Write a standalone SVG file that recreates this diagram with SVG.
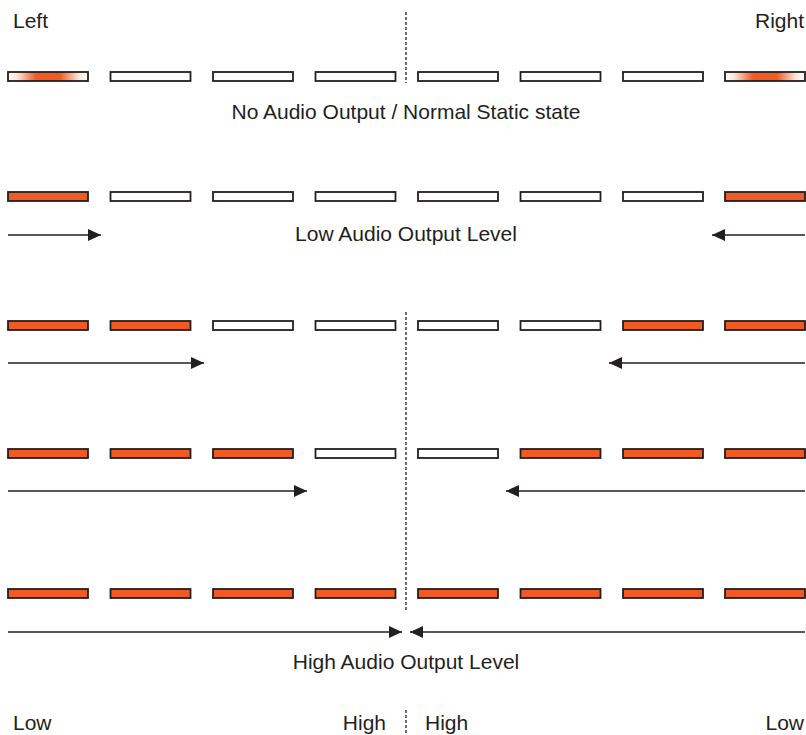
<svg xmlns="http://www.w3.org/2000/svg" width="806" height="735" viewBox="0 0 806 735">
<defs>
<linearGradient id="glow" x1="0" y1="0" x2="1" y2="0">
<stop offset="0" stop-color="#ffffff"/>
<stop offset="0.12" stop-color="#fde3d6"/>
<stop offset="0.35" stop-color="#f15a22"/>
<stop offset="0.65" stop-color="#f15a22"/>
<stop offset="0.88" stop-color="#fde3d6"/>
<stop offset="1" stop-color="#ffffff"/>
</linearGradient>
<marker id="ah" viewBox="0 0 13 12" refX="13" refY="6" markerWidth="13" markerHeight="12" markerUnits="userSpaceOnUse" orient="auto">
<path d="M0,0 L13,6 L0,12 z" fill="#231f20"/>
</marker>
<style>
.bar{stroke:#231f20;stroke-width:1.8}
.off{fill:#ffffff}
.on{fill:#f15a22}
.gl{fill:url(#glow)}
.arr{stroke:#231f20;stroke-width:1.4;fill:none;marker-end:url(#ah)}
.dash{stroke:#231f20;stroke-width:1.3;stroke-dasharray:3,2;fill:none}
text{font-family:"Liberation Sans",Arial,sans-serif;font-size:21px;fill:#231f20}
</style>
</defs>
<g id="center-line">
<line class="dash" x1="406" y1="12" x2="406" y2="83"/>
<line class="dash" x1="406" y1="312" x2="406" y2="610"/>
<line class="dash" x1="406" y1="710" x2="406" y2="735"/>
</g>
<g id="labels">
<text x="13" y="28">Left</text>
<text x="804" y="28" text-anchor="end">Right</text>
<text x="406" y="119" text-anchor="middle">No Audio Output / Normal Static state</text>
<text x="406" y="241" text-anchor="middle">Low Audio Output Level</text>
<text x="406" y="669" text-anchor="middle">High Audio Output Level</text>
<text x="13" y="730">Low</text>
<text x="386" y="730" text-anchor="end">High</text>
<text x="425" y="730">High</text>
<text x="804" y="730" text-anchor="end">Low</text>
</g>
<g id="row1">
<rect class="bar gl" x="8" y="72" width="80" height="9"/>
<rect class="bar off" x="110.5" y="72" width="80" height="9"/>
<rect class="bar off" x="213" y="72" width="80" height="9"/>
<rect class="bar off" x="315.5" y="72" width="80" height="9"/>
<rect class="bar off" x="418" y="72" width="80" height="9"/>
<rect class="bar off" x="520.5" y="72" width="80" height="9"/>
<rect class="bar off" x="623" y="72" width="80" height="9"/>
<rect class="bar gl" x="725" y="72" width="80" height="9"/>
</g>
<g id="row2">
<rect class="bar on" x="8" y="192" width="80" height="9"/>
<rect class="bar off" x="110.5" y="192" width="80" height="9"/>
<rect class="bar off" x="213" y="192" width="80" height="9"/>
<rect class="bar off" x="315.5" y="192" width="80" height="9"/>
<rect class="bar off" x="418" y="192" width="80" height="9"/>
<rect class="bar off" x="520.5" y="192" width="80" height="9"/>
<rect class="bar off" x="623" y="192" width="80" height="9"/>
<rect class="bar on" x="725" y="192" width="80" height="9"/>
</g>
<g id="row3">
<rect class="bar on" x="8" y="321" width="80" height="9"/>
<rect class="bar on" x="110.5" y="321" width="80" height="9"/>
<rect class="bar off" x="213" y="321" width="80" height="9"/>
<rect class="bar off" x="315.5" y="321" width="80" height="9"/>
<rect class="bar off" x="418" y="321" width="80" height="9"/>
<rect class="bar off" x="520.5" y="321" width="80" height="9"/>
<rect class="bar on" x="623" y="321" width="80" height="9"/>
<rect class="bar on" x="725" y="321" width="80" height="9"/>
</g>
<g id="row4">
<rect class="bar on" x="8" y="449" width="80" height="9"/>
<rect class="bar on" x="110.5" y="449" width="80" height="9"/>
<rect class="bar on" x="213" y="449" width="80" height="9"/>
<rect class="bar off" x="315.5" y="449" width="80" height="9"/>
<rect class="bar off" x="418" y="449" width="80" height="9"/>
<rect class="bar on" x="520.5" y="449" width="80" height="9"/>
<rect class="bar on" x="623" y="449" width="80" height="9"/>
<rect class="bar on" x="725" y="449" width="80" height="9"/>
</g>
<g id="row5">
<rect class="bar on" x="8" y="589" width="80" height="9"/>
<rect class="bar on" x="110.5" y="589" width="80" height="9"/>
<rect class="bar on" x="213" y="589" width="80" height="9"/>
<rect class="bar on" x="315.5" y="589" width="80" height="9"/>
<rect class="bar on" x="418" y="589" width="80" height="9"/>
<rect class="bar on" x="520.5" y="589" width="80" height="9"/>
<rect class="bar on" x="623" y="589" width="80" height="9"/>
<rect class="bar on" x="725" y="589" width="80" height="9"/>
</g>
<g id="connectors">
<line class="arr" x1="8" y1="235" x2="101" y2="235"/>
<line class="arr" x1="805" y1="235" x2="712" y2="235"/>
<line class="arr" x1="8" y1="363" x2="204" y2="363"/>
<line class="arr" x1="805" y1="363" x2="609" y2="363"/>
<line class="arr" x1="8" y1="491" x2="307" y2="491"/>
<line class="arr" x1="805" y1="491" x2="506" y2="491"/>
<line class="arr" x1="8" y1="632" x2="402" y2="632"/>
<line class="arr" x1="805" y1="632" x2="410" y2="632"/>
</g>
</svg>
